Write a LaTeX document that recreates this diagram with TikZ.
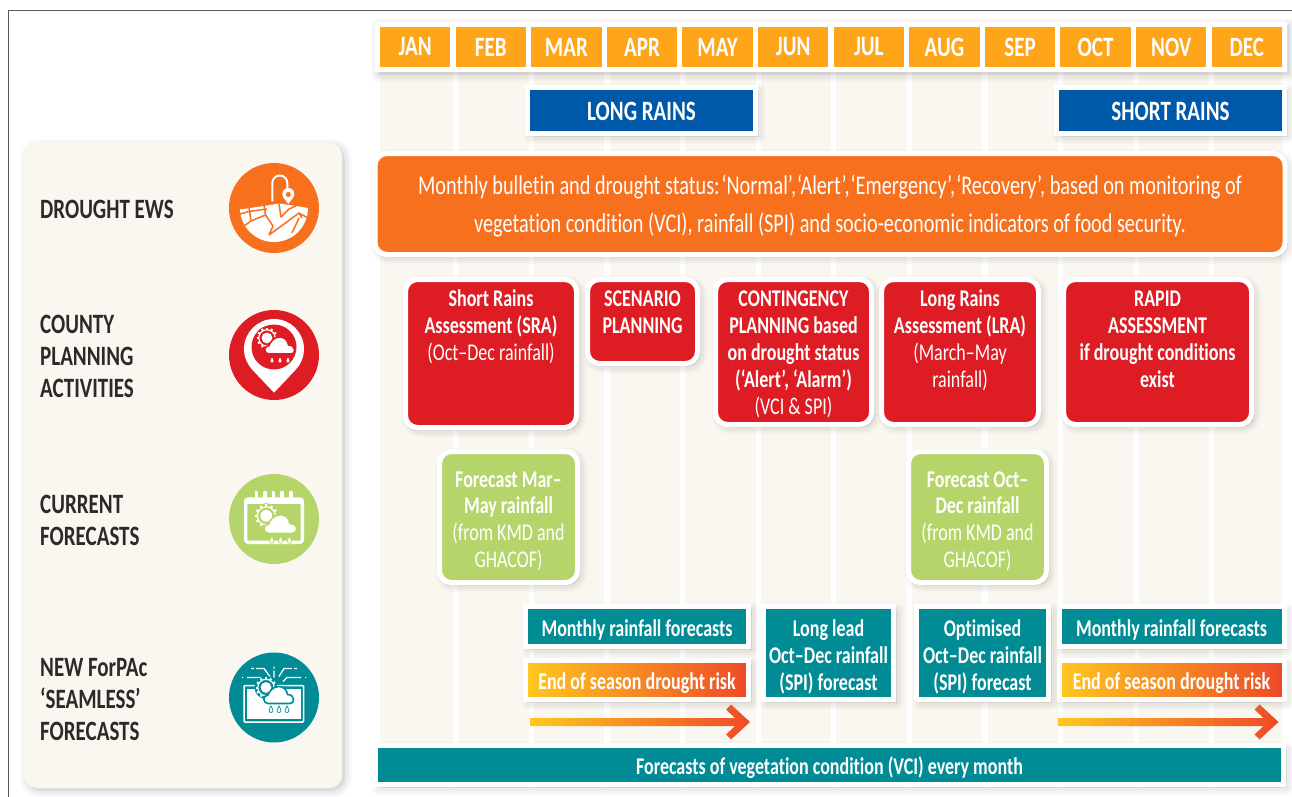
\documentclass[tikz,border=0pt]{standalone}
\usepackage{fontspec}
\setmainfont[FakeStretch=0.75,Ligatures=NoCommon]{Carlito}
\usetikzlibrary{shadows}
\usetikzlibrary{calc}
\definecolor{beige}{HTML}{FAF7F1}
\definecolor{monthorange}{HTML}{FFA51A}
\definecolor{rainblue}{HTML}{0058A9}
\definecolor{ewsorange}{HTML}{F7701E}
\definecolor{countyred}{HTML}{DD1C24}
\definecolor{currentgreen}{HTML}{B5D56A}
\definecolor{forpacteal}{HTML}{008B95}
\definecolor{riskyellow}{HTML}{FFC71F}
\definecolor{riskred}{HTML}{EE4A27}
\definecolor{labelgrey}{HTML}{2B2A29}
\tikzset{
    softshadow/.style={
        general shadow={shadow xshift=3pt,shadow yshift=-3pt,fill=black,draw=black,line width=14pt,opacity=.02,line join=round},
        general shadow={shadow xshift=3pt,shadow yshift=-3pt,fill=black,draw=black,line width=10pt,opacity=.025,line join=round},
        general shadow={shadow xshift=3pt,shadow yshift=-3pt,fill=black,draw=black,line width=6pt,opacity=.03,line join=round}},
    monthbox/.style={fill=monthorange,draw=white,line width=5pt,minimum width=75.4,minimum height=45,inner sep=0,
        text=white,font=\fontsize{28}{32}\selectfont\bfseries},
    rainbox/.style={fill=rainblue,draw=white,line width=5pt,minimum width=228,minimum height=46,inner sep=0,softshadow,
        text=white,font=\fontsize{28}{32}\selectfont\bfseries},
    roundbox/.style={draw=white,line width=5pt,rounded corners=12pt,inner sep=0,outer sep=0,anchor=north west,softshadow,
        text=white,font=\fontsize{24}{26.9}\selectfont},
    redbox/.style={roundbox,fill=countyred},
    greenbox/.style={roundbox,fill=currentgreen},
    tealbox/.style={fill=forpacteal,draw=white,line width=5pt,inner sep=0,outer sep=0,anchor=north west,softshadow,
        text=white,font=\fontsize{24}{27}\selectfont\bfseries},
    riskbox/.style={tealbox,left color=riskyellow,right color=riskred},
    rowlabel/.style={anchor=north west,inner sep=0,align=left,text=labelgrey,
        font=\fontsize{28}{32}\selectfont\bfseries}
}
\newcommand{\boxlines}[4]{\parbox[t][#2pt][t]{#1pt}{\centering\rule{0pt}{#3pt}#4}}
% sun behind a cloud with three drops, fg on bg
\newcommand{\weathericon}[2]{
    \fill[#2] (-7,-17) circle (11.5);
    \foreach \a in {0,30,...,330}
        \draw[#1,line width=2pt] ($(-7,-17)+(\a:8.5)$) -- ($(-7,-17)+(\a:10.5)$);
    \draw[#1,line width=1.2pt] (-7,-17) circle (8.2);
    \fill[#1] (-7,-17) circle (5.4);
    \path[fill=#1,draw=#2,line width=1.6pt,line join=round] (-5,-1) arc (90:270:4.2) .. controls (-4,-13) and (0,-18) .. (6,-18)
        .. controls (11,-18) and (14,-14) .. (14.5,-10) .. controls (18,-10) and (20.7,-8) .. (20.7,-5) .. controls (20.7,-2.5) and (19,-1) .. (17,-1) -- cycle;
    \foreach \x in {-2,6,14}
        \path[fill=#1,draw=#2,line width=.7pt] (\x,1.5) .. controls (\x+.7,3.5) and (\x+2,4.5) .. (\x+2,6)
            arc (0:180:2) .. controls (\x-2,4.5) and (\x-.7,3.5) .. (\x,1.5) -- cycle;
}
\begin{document}
\begin{tikzpicture}[x=1pt,y=-1pt]
    \useasboundingbox (0,0) rectangle (1292,797);
    \draw[black!65,line width=1pt] (8,797) -- (8,11) -- (1292,11);

    % month columns
    \fill[beige] (380,72) rectangle (1282,788);
    \foreach \i in {1,...,11}
        \fill[white] ({377.6+75.6*\i},72) rectangle ({382.8+75.6*\i},788);

    \node[fill=white,minimum width=912,minimum height=50,inner sep=0,softshadow] (monthstrip) at (831,47) {};
    \foreach \m [count=\i from 0] in {JAN,FEB,MAR,APR,MAY,JUN,JUL,AUG,SEP,OCT,NOV,DEC}
        \node[monthbox] (\m) at ({415.2+75.6*\i},47) {\m};

    \node[rainbox] (longrains) at (641.5,110.5) {\rule{0pt}{21pt}LONG RAINS};
    \node[rainbox] (shortrains) at (1170.5,110.5) {\rule{0pt}{21pt}SHORT RAINS};

    % drought ews row
    \node[roundbox,fill=ewsorange,minimum width=910,minimum height=101,align=center,anchor=center,
        font=\fontsize{27}{37.5}\selectfont] (bulletin) at (830,204)
        {\rule{0pt}{24pt}Monthly bulletin and drought status:\kern2pt‘Normal’,\kern1pt‘Alert’,\kern1pt‘Emergency’,\kern1pt‘Recovery’, based on monitoring of\\
        vegetation condition (VCI), rainfall (SPI) and socio-economic indicators of food security.};

    % county activities
    \node[redbox] (sra) at (405.5,279.5) {\boxlines{171}{148}{27}{\textbf{Short Rains}\\\textbf{Assessment (SRA)}\\(Oct–Dec rainfall)}};
    \node[redbox] (scenario) at (587.5,279.5) {\boxlines{110}{84}{27}{\textbf{SCENARIO}\\\textbf{PLANNING}}};
    \node[redbox] (contingency) at (715.5,279.5) {\boxlines{156}{145}{27}{\textbf{CONTINGENCY}\\\textbf{PLANNING based}\\\textbf{on drought status}\\\textbf{(‘Alert’, ‘Alarm’)}\\(VCI \& SPI)}};
    \node[redbox] (lra) at (881.5,279.5) {\boxlines{157}{145}{27}{\textbf{Long Rains}\\\textbf{Assessment (LRA)}\\(March–May\\rainfall)}};
    \node[redbox] (rapid) at (1063.5,279.5) {\boxlines{188}{145}{27}{\textbf{RAPID}\\\textbf{ASSESSMENT}\\\textbf{if drought conditions}\\\textbf{exist}}};

    % current forecasts
    \node[greenbox] (marmay) at (439.5,451.5) {\boxlines{138}{131}{35.5}{\textbf{Forecast Mar–}\\\textbf{May rainfall}\\(from KMD and\\GHACOF)}};
    \node[greenbox] (octdec) at (908.5,451.5) {\boxlines{138}{131}{35.5}{\textbf{Forecast Oct–}\\\textbf{Dec rainfall}\\(from KMD and\\GHACOF)}};

    % seamless forecasts
    \node[tealbox] (monthly1) at (525.5,606.5) {\boxlines{223}{40}{29.5}{Monthly rainfall forecasts}};
    \node[riskbox] (risk1) at (525.5,660.5) {\boxlines{223}{39}{29}{End of season drought risk}};
    \node[tealbox] (longlead) at (763.5,606.5) {\boxlines{130}{93}{29.5}{Long lead\\Oct–Dec rainfall\\(SPI) forecast}};
    \node[tealbox] (optimised) at (916.5,606.5) {\boxlines{132}{93}{29.5}{Optimised\\Oct–Dec rainfall\\(SPI) forecast}};
    \node[tealbox] (monthly2) at (1059,606.5) {\boxlines{225}{40}{29.5}{Monthly rainfall forecasts}};
    \node[riskbox] (risk2) at (1059,660.5) {\boxlines{225}{39}{29}{End of season drought risk}};
    \foreach \ax in {0,528.5}
        \shade[shift={(\ax,0)},left color=riskyellow,right color=riskred]
            (530,718) -- (735,718) -- (726,709.5) -- (731,704.5) -- (750,722) -- (731,739.5) -- (726,734.5) -- (735,726) -- (530,726) -- cycle;
    \node[tealbox] (vci) at (375.5,745.5) {\boxlines{908}{39}{28.5}{Forecasts of vegetation condition (VCI) every month}};

    % left panel
    \node[fill=beige,rounded corners=13pt,minimum width=318,minimum height=645,inner sep=0,softshadow] (panel) at (183,465.5) {};
    \node[rowlabel] (ewslabel) at (40,199.5) {DROUGHT EWS};
    \node[rowlabel] (countylabel) at (40,314.5) {COUNTY\\PLANNING\\ACTIVITIES};
    \node[rowlabel] (currentlabel) at (40,494.5) {CURRENT\\FORECASTS};
    \node[rowlabel] (forpaclabel) at (40,658.5) {NEW ForPAc\\‘SEAMLESS’\\FORECASTS};

    \fill[ewsorange] (274,208) circle (45);
    \fill[countyred] (274,355) circle (45);
    \fill[currentgreen] (274,519) circle (45);
    \fill[forpacteal] (274,697.5) circle (45);

    % cracked ground with pin
    \begin{scope}[shift={(274,208)}]
        \fill[white] (-34,1.5) -- (-7,-2.5) -- (5,-4.5) -- (22,-2) -- (34,0) arc (0:180:34) -- cycle;
        \draw[ewsorange,line width=1.5pt,line join=round]
            (-34,6) -- (-25,3.5) -- (-7,1) (-25,-1) -- (-23,13) -- (-30,18) (-23,13) -- (-8.5,7) -- (-10,-3)
            (-8.5,7) -- (-1,18) -- (-5,27) (-5,27) -- (25,5) -- (34,10) (25,5) -- (28,10) (25,10) -- (18,25)
            (5,-4) -- (7,9) -- (15,1) -- (22,-2);
        \draw[white,line width=2pt] (-1.7,-6.7) -- (-1.7,-25) arc (180:360:7.5) -- (13.3,-19);
        \fill[white] (14.3,-4) .. controls (12,-8) and (8.3,-10) .. (8.3,-14) arc (180:360:6) .. controls (20.3,-10) and (16.6,-8) .. cycle;
        \fill[ewsorange] (14.3,-13.5) circle (2.5);
    \end{scope}

    % map pin
    \begin{scope}[shift={(274,355)}]
        \fill[white] (0,-6) circle (30);
        \fill[white] (-21.8,14.6) -- (0,37.7) -- (21.8,14.6) -- cycle;
        \fill[countyred] (0,-8) circle (22.5);
        \weathericon{white}{countyred}
    \end{scope}

    % calendar
    \begin{scope}[shift={(274,519)}]
        \foreach \x in {-17.7,-9,-0.7,7.7,16.7}
            \draw[white,line width=3.6pt,line cap=round] (\x,-26.5) -- (\x,-20);
        \fill[white,rounded corners=4pt] (-30,-21.7) rectangle (30,25);
        \fill[currentgreen,rounded corners=1pt] (-26.7,-15) rectangle (26.7,21.7);
        \begin{scope}[shift={(0,15.5)},scale=1.1]
            \weathericon{white}{currentgreen}
        \end{scope}
    \end{scope}

    % tablet with signal lines
    \begin{scope}[shift={(274,697.5)}]
        \draw[white,line width=1.5pt,rounded corners=1pt] (-30,-12) rectangle (29.5,24.5);
        \fill[white] (-27,-9) rectangle (26.5,21.5);
        \draw[white,line width=1.3pt]
            (0,-31) -- (0,-29) (0,-27) -- (0,-20)
            (-23,-29) -- (-20,-29) (-18,-29) -- (-10,-29) -- (-4,-21)
            (23,-29) -- (20,-29) (18,-29) -- (10,-29) -- (5,-21)
            (-32,-20) -- (-31,-20) (-27,-20) -- (-13,-20) -- (-8,-15)
            (32,-20) -- (31,-20) (27,-20) -- (13,-20) -- (9,-16);
        \begin{scope}[shift={(-1,7)}]
            \weathericon{white}{forpacteal}
        \end{scope}
    \end{scope}
\end{tikzpicture}
\end{document}
